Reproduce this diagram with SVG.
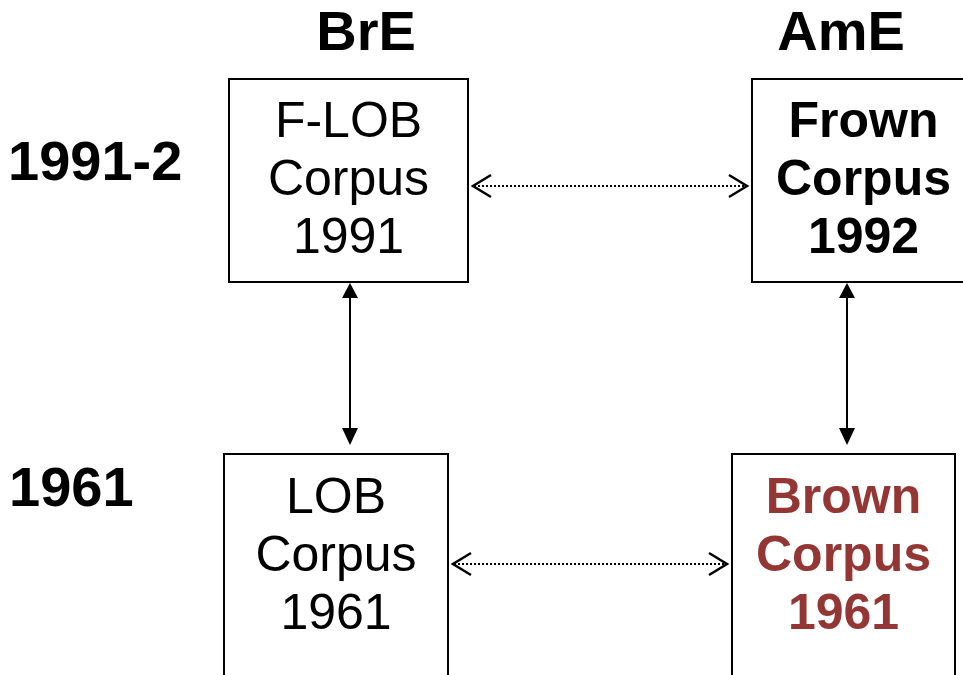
<svg xmlns="http://www.w3.org/2000/svg" width="963" height="675" viewBox="0 0 963 675">
<style>
.box{fill:#fff;stroke:#000;stroke-width:2}
.t{font-family:"Liberation Sans",Arial,sans-serif;font-size:50px;text-anchor:middle;fill:#000}
.b{font-weight:bold}
.h{font-family:"Liberation Sans",Arial,sans-serif;font-size:56px;font-weight:bold;fill:#000}
.red{fill:#943634}
.solid{stroke:#000;stroke-width:2;fill:none}
.dot{stroke:#000;stroke-width:2;fill:none;stroke-dasharray:2 2}
.chev{stroke:#000;stroke-width:2.5;fill:none}
.head{fill:#000}
</style>
<rect width="963" height="675" fill="#fff"/>
<g id="labels">
<text class="h" x="366" y="50" text-anchor="middle">BrE</text>
<text class="h" x="841" y="50" text-anchor="middle">AmE</text>
<text class="h" x="8" y="180">1991-2</text>
<text class="h" x="9" y="506">1961</text>
</g>
<g id="flob">
<rect class="box" x="229" y="79" width="239" height="203"/>
<text class="t" x="348.5" y="137">F-LOB</text>
<text class="t" x="348.5" y="195">Corpus</text>
<text class="t" x="348.5" y="253">1991</text>
</g>
<g id="frown">
<rect class="box" x="752" y="79" width="223" height="203"/>
<text class="t b" x="863.5" y="137">Frown</text>
<text class="t b" x="863.5" y="195">Corpus</text>
<text class="t b" x="863.5" y="253">1992</text>
</g>
<g id="lob">
<rect class="box" x="224" y="454" width="224" height="240"/>
<text class="t" x="336" y="513">LOB</text>
<text class="t" x="336" y="571">Corpus</text>
<text class="t" x="336" y="629">1961</text>
</g>
<g id="brown">
<rect class="box" x="732" y="454" width="223" height="240"/>
<text class="t b red" x="843.5" y="513">Brown</text>
<text class="t b red" x="843.5" y="571">Corpus</text>
<text class="t b red" x="843.5" y="629">1961</text>
</g>
<g id="connectors">
<line class="solid" x1="350" y1="296" x2="350" y2="430"/>
<polygon class="head" points="350,283 342,298 358,298"/>
<polygon class="head" points="350,445 342,428 358,428"/>
<line class="solid" x1="847" y1="296" x2="847" y2="430"/>
<polygon class="head" points="847,283 839,298 855,298"/>
<polygon class="head" points="847,445 839,428 855,428"/>
<line class="dot" x1="474" y1="186" x2="746" y2="186"/>
<path class="chev" d="M491,175 L473,186 L491,197"/>
<path class="chev" d="M729,175 L747,186 L729,197"/>
<line class="dot" x1="454" y1="564" x2="726" y2="564"/>
<path class="chev" d="M471,553 L453,564 L471,575"/>
<path class="chev" d="M709,553 L727,564 L709,575"/>
</g>
</svg>
